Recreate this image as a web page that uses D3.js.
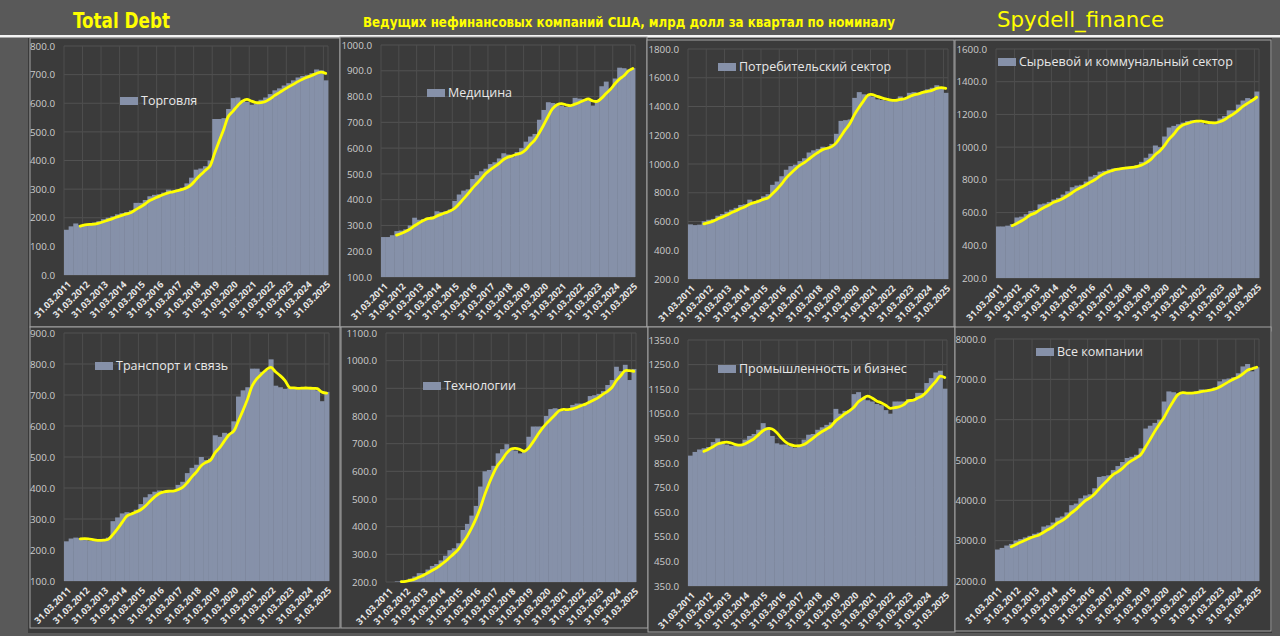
<!DOCTYPE html>
<html>
<head>
<meta charset="utf-8">
<script src="https://cdn.jsdelivr.net/npm/d3@7"></script>
<style>
  body { margin: 0; background: #595959; }
  svg { display: block; }
</style>
</head>
<body>
<svg id="chart" width="1280" height="636"></svg>
<script>
// quarterly debt, bln USD, 2011Q1 .. 2025Q1 (57 quarters)
var quarterEnds = ["31.03", "30.06", "30.09", "31.12"];
var years = d3.range(2011, 2026);
var categories = [];
years.forEach(function(yr) {
  quarterEnds.forEach(function(q) { categories.push(q + "." + yr); });
});
categories = categories.slice(0, 57);

var trade = [158, 170, 180, 174, 175, 178, 183, 188, 195, 200, 205, 212, 216, 220, 226, 252,
  252, 262, 275, 280, 282, 288, 298, 295, 298, 305, 320, 340, 368, 372, 380, 400,
  545, 545, 548, 580, 618, 620, 610, 605, 595, 598, 612, 620, 632, 645, 652, 662,
  670, 680, 690, 695, 698, 705, 718, 715, 680];
var medicine = [255, 255, 262, 278, 280, 285, 300, 330, 322, 325, 330, 335, 355, 352, 355, 362,
  395, 420, 435, 440, 480, 495, 510, 520, 538, 545, 560, 580, 575, 565, 585, 600,
  625, 645, 655, 710, 748, 778, 775, 772, 765, 760, 762, 795, 792, 790, 785, 765,
  785, 840, 858, 830, 870, 912, 910, 905, 910];
var consumer = [580, 575, 578, 602, 612, 618, 640, 652, 668, 682, 695, 715, 720, 752, 738, 752,
  775, 790, 855, 878, 915, 960, 985, 995, 1020, 1040, 1080, 1095, 1105, 1120, 1118, 1140,
  1210, 1300, 1305, 1310, 1460, 1500, 1485, 1475, 1470, 1450, 1445, 1440, 1440, 1445, 1470, 1460,
  1495, 1500, 1495, 1505, 1520, 1530, 1548, 1530, 1495];
var resources = [515, 515, 520, 530, 570, 575, 590, 610, 615, 650, 655, 665, 680, 690, 710, 730,
  755, 765, 770, 790, 820, 830, 850, 855, 865, 870, 870, 875, 880, 880, 890, 910,
  935, 960, 1010, 1000, 1065, 1120, 1130, 1140, 1150, 1160, 1165, 1160, 1150, 1140, 1150, 1155,
  1175, 1190, 1225, 1225, 1260, 1285, 1300, 1295, 1340];
var transport = [228, 237, 240, 238, 232, 230, 232, 230, 235, 240, 293, 305, 318, 322, 320, 330,
  348, 370, 380, 388, 392, 390, 388, 390, 410, 420, 448, 465, 475, 500, 490, 495,
  570, 565, 578, 575, 615, 695, 715, 725, 785, 785, 775, 780, 815, 730, 725, 720,
  722, 725, 718, 725, 722, 720, 715, 680, 710];
var tech = [200, 200, 202, 203, 205, 212, 220, 232, 232, 245, 258, 265, 278, 295, 315, 322,
  340, 388, 410, 440, 475, 545, 600, 605, 620, 665, 680, 698, 680, 675, 665, 670,
  725, 762, 762, 762, 800, 825, 828, 825, 818, 820, 840, 845, 845, 842, 872, 875,
  880, 890, 912, 930, 978, 962, 985, 930, 970];
var industry = [880, 895, 905, 910, 915, 935, 950, 930, 925, 920, 925, 920, 945, 960, 968, 985,
  1012, 995, 960, 930, 925, 925, 918, 912, 925, 945, 965, 968, 985, 995, 1005, 1015,
  1070, 1050, 1062, 1065, 1130, 1138, 1115, 1105, 1100, 1090, 1085, 1065, 1050, 1100, 1100, 1100,
  1110, 1110, 1135, 1135, 1175, 1195, 1218, 1225, 1152];
var allCompanies = [2780, 2820, 2880, 2920, 3000, 3040, 3080, 3120, 3170, 3200, 3350, 3380, 3450, 3570, 3600, 3700,
  3880, 3920, 4050, 4120, 4150, 4300, 4580, 4600, 4620, 4750, 4850, 4950, 5050, 5080, 5130, 5290,
  5780, 5850, 5920, 6000, 6450, 6700, 6680, 6650, 6650, 6660, 6670, 6700, 6750, 6740, 6750, 6800,
  6950, 7000, 7020, 7050, 7150, 7320, 7380, 7200, 7300];

var sectorNames = ["Торговля", "Медицина", "Потребительский сектор", "Сырьевой и коммунальный сектор",
  "Транспорт и связь", "Технологии", "Промышленность и бизнес", "Все компании"];
var sectorValues = [trade, medicine, consumer, resources, transport, tech, industry, allCompanies];
var yMin = [0, 100, 200, 200, 100, 200, 350, 2000];
var yMax = [800, 1000, 1800, 1600, 900, 1100, 1350, 8000];
var yStep = [100, 100, 200, 200, 100, 100, 100, 1000];

// panel boxes on the page: frame, plot area, legend anchor
var layout = [
  {frame: [30, 38, 340, 327], plot: [64, 46, 328, 275], legend: [120, 101]},
  {frame: [340, 37, 647, 327], plot: [381, 45, 635, 277], legend: [427, 93]},
  {frame: [647, 40, 954, 327], plot: [688, 49, 948, 279], legend: [718, 67]},
  {frame: [955, 40, 1271, 331], plot: [996, 49, 1259, 278], legend: [998, 62]},
  {frame: [30, 327, 340, 628], plot: [64, 333, 329, 581], legend: [95, 366]},
  {frame: [341, 327, 648, 628], plot: [386, 333, 636, 582], legend: [423, 386]},
  {frame: [648, 327, 955, 632], plot: [688, 340, 947, 586], legend: [718, 369]},
  {frame: [955, 327, 1271, 631], plot: [995, 339, 1259, 581], legend: [1036, 352]}
];

var barColor = "#8691a9";
var svg = d3.select("#chart");

// header
svg.append("rect").attr("x", 0).attr("y", 0).attr("width", 1280).attr("height", 636).attr("fill", "#595959");
svg.append("rect").attr("x", 28).attr("y", 38).attr("width", 1244).attr("height", 595).attr("fill", "#3b3b3b");
svg.append("rect").attr("x", 0).attr("y", 35).attr("width", 1280).attr("height", 2.5).attr("fill", "#f4f4f4");

var headFont = "'Liberation Sans Narrow', 'DejaVu Sans Condensed', sans-serif";
svg.append("text").attr("x", 73).attr("y", 28).text("Total Debt")
  .attr("font-family", headFont).attr("font-weight", "bold").attr("font-size", 22)
  .attr("fill", "#ffff00").attr("textLength", 97).attr("lengthAdjust", "spacingAndGlyphs");
svg.append("text").attr("x", 363).attr("y", 27)
  .text("Ведущих нефинансовых компаний США, млрд долл за квартал по номиналу")
  .attr("font-family", headFont).attr("font-weight", "bold").attr("font-size", 14)
  .attr("fill", "#ffff00").attr("textLength", 532).attr("lengthAdjust", "spacingAndGlyphs");
svg.append("text").attr("x", 997).attr("y", 27).text("Spydell_finance")
  .attr("font-family", headFont).attr("font-size", 21)
  .attr("fill", "#ffff00").attr("textLength", 167).attr("lengthAdjust", "spacingAndGlyphs");

sectorValues.forEach(function(values, k) {
  var L = layout[k];
  var g = svg.append("g").attr("class", "panel");

  g.append("rect")
    .attr("x", L.frame[0]).attr("y", L.frame[1])
    .attr("width", L.frame[2] - L.frame[0]).attr("height", L.frame[3] - L.frame[1])
    .attr("fill", "#3b3b3b").attr("stroke", "#a3a3a3").attr("stroke-width", 1);

  var x = d3.scaleBand().domain(d3.range(values.length)).range([L.plot[0], L.plot[2]]).padding(0);
  var y = d3.scaleLinear().domain([yMin[k], yMax[k]]).range([L.plot[3], L.plot[1]]);
  var ticks = d3.range(yMin[k], yMax[k] + yStep[k] / 2, yStep[k]);

  // grid
  g.selectAll(".hgrid").data(ticks).enter().append("line")
    .attr("x1", L.plot[0]).attr("x2", L.plot[2])
    .attr("y1", function(d) { return y(d); }).attr("y2", function(d) { return y(d); })
    .attr("stroke", "#525252").attr("stroke-width", 1);
  var vg = d3.range(0, values.length, 4).map(function(i) { return x(i); }).concat([L.plot[2]]);
  g.selectAll(".vgrid").data(vg).enter().append("line")
    .attr("x1", function(d) { return d; }).attr("x2", function(d) { return d; })
    .attr("y1", L.plot[1]).attr("y2", L.plot[3])
    .attr("stroke", "#4e4e4e").attr("stroke-width", 1);

  // bars
  g.selectAll(".bar").data(values).enter().append("rect")
    .attr("x", function(d, i) { return x(i); })
    .attr("y", function(d) { return y(d); })
    .attr("width", x.bandwidth() + 0.4)
    .attr("height", function(d) { return y(yMin[k]) - y(d); })
    .attr("fill", barColor);

  // 4-quarter moving average trendline
  var ma = values.map(function(v, i) {
    return i < 3 ? null : d3.mean(values.slice(i - 3, i + 1));
  });
  var line = d3.line()
    .defined(function(d) { return d != null; })
    .x(function(d, i) { return x(i) + x.bandwidth() / 2; })
    .y(function(d) { return y(d); })
    .curve(d3.curveCatmullRom.alpha(0.5));
  g.append("path").datum(ma).attr("d", line)
    .attr("fill", "none").attr("stroke", "#ffff00").attr("stroke-width", 2.8)
    .attr("stroke-linejoin", "round").attr("stroke-linecap", "round");

  // y axis
  var ya = g.append("g").attr("transform", "translate(" + L.plot[0] + ",0)")
    .call(d3.axisLeft(y).tickValues(ticks).tickFormat(d3.format(".1f")).tickSize(0).tickPadding(9));
  ya.select(".domain").remove();
  ya.selectAll("text").attr("fill", "#cccccc").attr("font-size", 9.8)
    .attr("font-family", "'Open Sans', sans-serif");

  // x axis
  var xa = g.append("g").attr("transform", "translate(0," + L.plot[3] + ")")
    .call(d3.axisBottom(x).tickValues(d3.range(0, values.length, 4))
      .tickFormat(function(i) { return categories[i]; }).tickSize(0));
  xa.select(".domain").remove();
  xa.selectAll("text")
    .attr("y", 0).attr("dy", 0)
    .attr("transform", "translate(" + (x.bandwidth() / 2 + 3) + ",10) rotate(-45)")
    .attr("text-anchor", "end")
    .attr("fill", "#e6e6e6").attr("font-size", 9.2).attr("font-weight", "bold")
    .attr("font-family", "'Open Sans', sans-serif");

  // legend
  g.append("rect").attr("x", L.legend[0]).attr("y", L.legend[1] - 4)
    .attr("width", 18).attr("height", 8).attr("fill", barColor);
  g.append("text").attr("x", L.legend[0] + 21).attr("y", L.legend[1])
    .attr("dy", "0.35em").text(sectorNames[k])
    .attr("fill", "#e8e8e8").attr("font-size", 12.5)
    .attr("font-family", "'Open Sans', sans-serif");
});
</script>
</body>
</html>
